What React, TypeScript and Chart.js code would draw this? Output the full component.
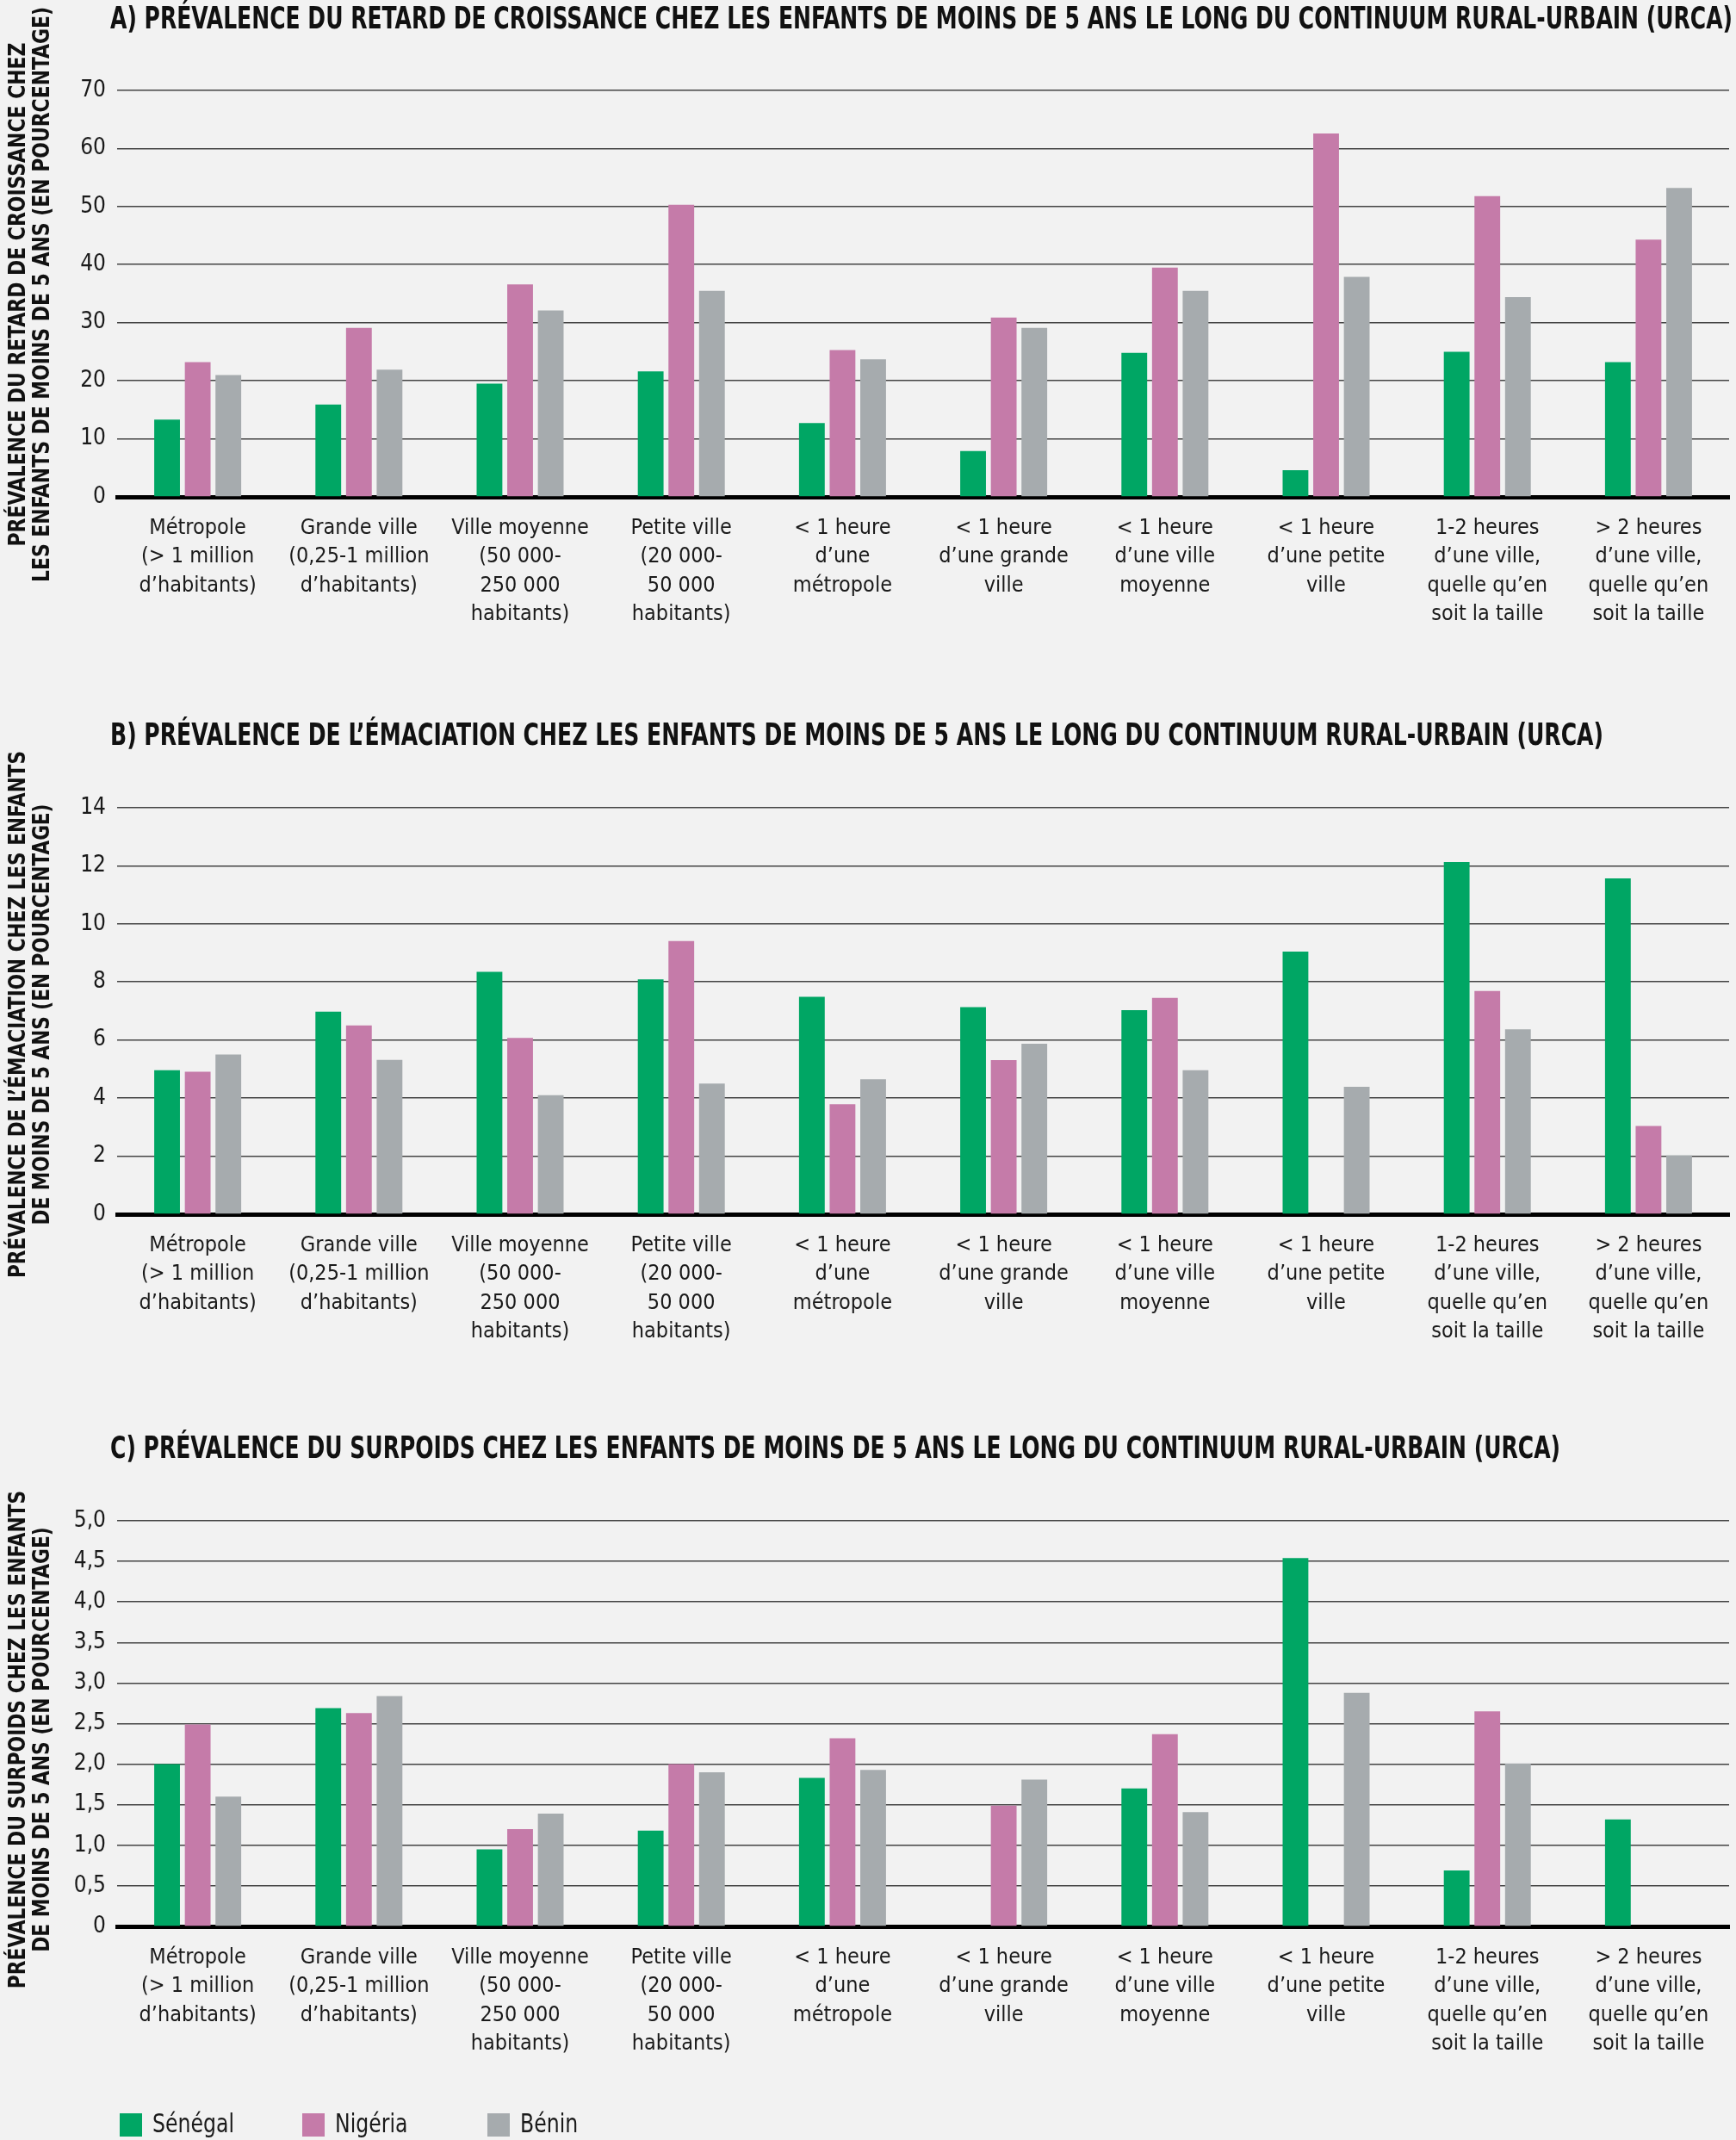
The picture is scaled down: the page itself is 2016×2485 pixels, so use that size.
import React, { useEffect, useRef } from 'react';
import { Chart, registerables } from 'chart.js';

Chart.register(...registerables);

// ---------- DATA ----------
const categories: string[][] = [
  ['Métropole', '(> 1 million', 'd’habitants)'],
  ['Grande ville', '(0,25-1 million', 'd’habitants)'],
  ['Ville moyenne', '(50 000-', '250 000', 'habitants)'],
  ['Petite ville', '(20 000-', '50 000', 'habitants)'],
  ['< 1 heure', 'd’une', 'métropole'],
  ['< 1 heure', 'd’une grande', 'ville'],
  ['< 1 heure', 'd’une ville', 'moyenne'],
  ['< 1 heure', 'd’une petite', 'ville'],
  ['1-2 heures', 'd’une ville,', 'quelle qu’en', 'soit la taille'],
  ['> 2 heures', 'd’une ville,', 'quelle qu’en', 'soit la taille'],
];

const seriesNames = ['Sénégal', 'Nigéria', 'Bénin'];
const seriesColors = ['#00a664', '#c57ba9', '#a6abae'];

// A) stunting
const stuntingSenegal = [13.3, 15.9, 19.5, 21.6, 12.7, 7.9, 24.8, 4.6, 25.0, 23.2];
const stuntingNigeria = [23.2, 29.1, 36.6, 50.3, 25.3, 30.9, 39.5, 62.6, 51.8, 44.3];
const stuntingBenin = [21.0, 21.9, 32.1, 35.5, 23.7, 29.1, 35.5, 37.9, 34.4, 53.2];
const stuntingTicks = ['0', '10', '20', '30', '40', '50', '60', '70'];

// B) wasting
const wastingSenegal = [4.96, 6.98, 8.35, 8.09, 7.49, 7.13, 7.03, 9.05, 12.13, 11.57];
const wastingNigeria = [4.91, 6.5, 6.07, 9.41, 3.79, 5.31, 7.45, null, 7.69, 3.04];
const wastingBenin = [5.5, 5.32, 4.1, 4.5, 4.65, 5.87, 4.96, 4.39, 6.37, 2.03];
const wastingTicks = ['0', '2', '4', '6', '8', '10', '12', '14'];

// C) overweight
const overweightSenegal = [2.0, 2.69, 0.95, 1.18, 1.83, null, 1.7, 4.54, 0.69, 1.32];
const overweightNigeria = [2.49, 2.63, 1.2, 2.0, 2.32, 1.49, 2.37, null, 2.65, null];
const overweightBenin = [1.6, 2.84, 1.39, 1.9, 1.93, 1.81, 1.41, 2.88, 2.01, null];
const overweightTicks = ['0', '0,5', '1,0', '1,5', '2,0', '2,5', '3,0', '3,5', '4,0', '4,5', '5,0'];

const titleA = 'A) PRÉVALENCE DU RETARD DE CROISSANCE CHEZ LES ENFANTS DE MOINS DE 5 ANS LE LONG DU CONTINUUM RURAL-URBAIN (URCA)';
const titleB = 'B) PRÉVALENCE DE L’ÉMACIATION CHEZ LES ENFANTS DE MOINS DE 5 ANS LE LONG DU CONTINUUM RURAL-URBAIN (URCA)';
const titleC = 'C) PRÉVALENCE DU SURPOIDS CHEZ LES ENFANTS DE MOINS DE 5 ANS LE LONG DU CONTINUUM RURAL-URBAIN (URCA)';
const yTitleA = ['PRÉVALENCE DU RETARD DE CROISSANCE CHEZ', 'LES ENFANTS DE MOINS DE 5 ANS (EN POURCENTAGE)'];
const yTitleB = ['PRÉVALENCE DE L’ÉMACIATION CHEZ LES ENFANTS', 'DE MOINS DE 5 ANS (EN POURCENTAGE)'];
const yTitleC = ['PRÉVALENCE DU SURPOIDS CHEZ LES ENFANTS', 'DE MOINS DE 5 ANS (EN POURCENTAGE)'];

// ---------- FONT PICK ----------
function hasFont(name: string): boolean {
  const c = document.createElement('canvas').getContext('2d');
  if (!c) return false;
  const s = 'abcdefghijklmnopqrstuvwxyz ABCDEFGHIJKLMNOP 0123456789';
  const out: boolean[] = [];
  for (const base of ['monospace', 'serif']) {
    c.font = `40px ${base}`;
    const w1 = c.measureText(s).width;
    c.font = `40px "${name}", ${base}`;
    const w2 = c.measureText(s).width;
    out.push(Math.abs(w1 - w2) > 0.5);
  }
  return out[0] || out[1];
}

function pickFont(): { family: string; condensed: boolean } {
  const cands = ['Liberation Sans Narrow', 'DejaVu Sans Condensed', 'Roboto Condensed', 'Open Sans Condensed'];
  for (const f of cands) if (hasFont(f)) return { family: `"${f}", sans-serif`, condensed: true };
  return { family: 'Roboto, "Liberation Sans", sans-serif', condensed: false };
}

type PanelSpec = {
  height: number;
  padTop: number;
  padBottom: number;
  max: number;
  step: number;
  tickLabels: string[];
  values: (number | null)[][];
  title: string;
  titleY: number;
  titleWidth: number;
  yLines: string[];
  yCenter: number;
  yWidths: number[];
  legend: boolean;
};

const panels: PanelSpec[] = [
  {
    height: 800, padTop: 105, padBottom: 43, max: 70, step: 10, tickLabels: stuntingTicks,
    values: [stuntingSenegal, stuntingNigeria, stuntingBenin],
    title: titleA, titleY: 24, titleWidth: 1884,
    yLines: yTitleA, yCenter: 342, yWidths: [592, 661], legend: false,
  },
  {
    height: 830, padTop: 138, padBottom: 40, max: 14, step: 2, tickLabels: wastingTicks,
    values: [wastingSenegal, wastingNigeria, wastingBenin],
    title: titleB, titleY: 56, titleWidth: 1734,
    yLines: yTitleB, yCenter: 378, yWidths: [616, 485], legend: false,
  },
  {
    height: 855, padTop: 136, padBottom: 68, max: 5, step: 0.5, tickLabels: overweightTicks,
    values: [overweightSenegal, overweightNigeria, overweightBenin],
    title: titleC, titleY: 54, titleWidth: 1684,
    yLines: yTitleC, yCenter: 390, yWidths: [587, 485], legend: true,
  },
];

function makeTextPlugin(spec: PanelSpec, family: string) {
  return {
    id: 'panelText',
    afterDraw(chart: any) {
      const ctx: CanvasRenderingContext2D = chart.ctx;
      // title
      ctx.save();
      ctx.fillStyle = '#111';
      ctx.font = `bold 36px ${family}`;
      ctx.textBaseline = 'middle';
      ctx.textAlign = 'left';
      const tw = ctx.measureText(spec.title).width;
      ctx.translate(128, spec.titleY);
      ctx.scale(spec.titleWidth / tw, 1);
      ctx.fillText(spec.title, 0, 0);
      ctx.restore();

      // y-axis title (two rotated lines)
      ctx.save();
      ctx.fillStyle = '#111';
      ctx.font = `bold 26px ${family}`;
      ctx.textBaseline = 'middle';
      ctx.textAlign = 'center';
      const m = spec.yLines.map((l) => ctx.measureText(l).width);
      const sx = (spec.yWidths[0] + spec.yWidths[1]) / (m[0] + m[1]);
      const xs = [22, 50];
      spec.yLines.forEach((line, i) => {
        ctx.save();
        ctx.translate(xs[i], spec.yCenter);
        ctx.rotate(-Math.PI / 2);
        ctx.scale(sx, 1);
        ctx.fillText(line, 0, 0);
        ctx.restore();
      });
      ctx.restore();

      // legend
      if (spec.legend) {
        ctx.save();
        ctx.font = `31px ${family}`;
        ctx.textBaseline = 'middle';
        ctx.textAlign = 'left';
        const yc = 837;
        const xs2 = [139, 351, 566];
        const refW = ctx.measureText(seriesNames[0]).width;
        const lsx = Math.min(1, 95 / refW);
        chart.data.datasets.forEach((ds: any, i: number) => {
          ctx.fillStyle = ds.backgroundColor;
          ctx.fillRect(xs2[i], yc - 13, 26, 27);
          ctx.fillStyle = '#1a1a1a';
          ctx.save();
          ctx.translate(xs2[i] + 38, yc + 1);
          ctx.scale(lsx, 1);
          ctx.fillText(ds.label, 0, 0);
          ctx.restore();
        });
        ctx.restore();
      }
    },
  };
}

function buildConfig(spec: PanelSpec, font: { family: string; condensed: boolean }): any {
  const tickSize = font.condensed ? 25 : 22;
  return {
    type: 'bar',
    data: {
      labels: categories,
      datasets: spec.values.map((v, i) => ({
        label: seriesNames[i],
        data: v,
        backgroundColor: seriesColors[i],
        borderWidth: 0,
        categoryPercentage: 0.57,
        barPercentage: 0.84,
      })),
    },
    options: {
      responsive: false,
      animation: false,
      events: [],
      layout: { padding: { top: spec.padTop, bottom: spec.padBottom, left: 0, right: 8 } },
      plugins: {
        legend: { display: false },
        tooltip: { enabled: false },
        title: { display: false },
      },
      scales: {
        x: {
          z: 1,
          grid: { display: false, drawTicks: false, tickLength: 0 },
          border: { display: true, color: '#000', width: 5 },
          ticks: {
            color: '#1a1a1a',
            font: { family: font.family, size: tickSize, lineHeight: 33.3 / tickSize },
            padding: 20,
            maxRotation: 0,
            minRotation: 0,
            autoSkip: false,
          },
          afterFit: (s: any) => {
            s.height = 180;
          },
        },
        y: {
          min: 0,
          max: spec.max,
          grid: { color: '#444', lineWidth: 1.6, drawTicks: false },
          border: { display: false },
          ticks: {
            stepSize: spec.step,
            padding: 13,
            color: '#1a1a1a',
            font: { family: font.family, size: tickSize + 1 },
            callback: (_v: any, i: number) => spec.tickLabels[i],
          },
          afterFit: (s: any) => {
            s.width = 136;
          },
        },
      },
    },
    plugins: [makeTextPlugin(spec, font.family)],
  };
}

function Panel({ spec }: { spec: PanelSpec }) {
  const ref = useRef<HTMLCanvasElement>(null);
  useEffect(() => {
    const font = pickFont();
    Chart.defaults.font.family = font.family;
    const chart = new Chart(ref.current as HTMLCanvasElement, buildConfig(spec, font));
    return () => chart.destroy();
  }, [spec]);
  return (
    <canvas
      ref={ref}
      width={2016}
      height={spec.height}
      style={{ display: 'block', width: 2016, height: spec.height }}
    />
  );
}

export default function App() {
  return (
    <div
      style={{
        position: 'absolute',
        left: 0,
        top: 0,
        width: 2016,
        height: 2485,
        background: '#f2f2f2',
        overflow: 'hidden',
      }}
    >
      {panels.map((p, i) => (
        <Panel key={i} spec={p} />
      ))}
    </div>
  );
}
